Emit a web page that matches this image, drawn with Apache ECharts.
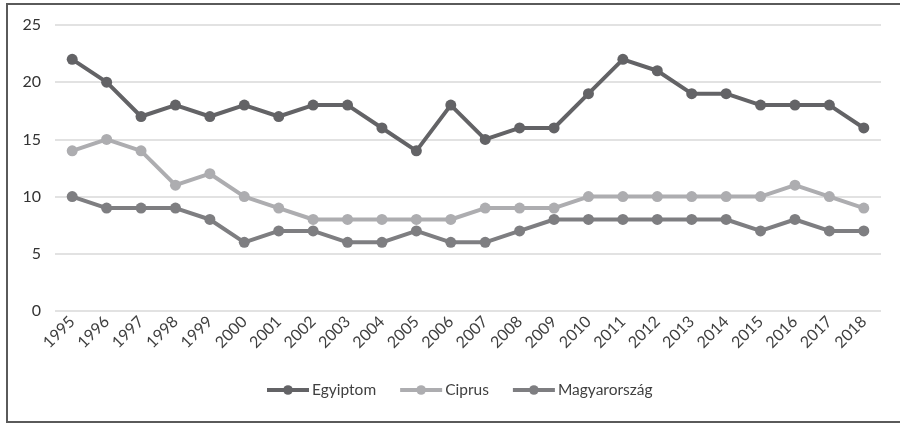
<!DOCTYPE html>
<html>
<head>
<meta charset="utf-8">
<script src="https://cdn.jsdelivr.net/npm/echarts@6/dist/echarts.min.js"></script>
<style>html,body{margin:0;padding:0;background:#fff}#c{width:900px;height:423px}</style>
</head>
<body>
<div id="c"></div>
<script>
const years = ['1995','1996','1997','1998','1999','2000','2001','2002','2003','2004','2005','2006','2007','2008','2009','2010','2011','2012','2013','2014','2015','2016','2017','2018'];
const egyiptom = [22,20,17,18,17,18,17,18,18,16,14,18,15,16,16,19,22,21,19,19,18,18,18,16];
const ciprus = [14,15,14,11,12,10,9,8,8,8,8,8,9,9,9,10,10,10,10,10,10,11,10,9];
const magyarorszag = [10,9,9,9,8,6,7,7,6,6,7,6,6,7,8,8,8,8,8,8,7,8,7,7];
const seriesNames = ['Egyiptom','Ciprus','Magyarország'];
const colors = ['#636366','#adadb0','#7e7e81'];

const chart = echarts.init(document.getElementById('c'), null, {renderer:'canvas'});
const font = 'Lato, "Open Sans", sans-serif';
function mk(name, data, color){
  return {name, type:'line', data, color, symbol:'circle', symbolSize:11,
    lineStyle:{width:4, color}, itemStyle:{color}, animation:false};
}
chart.setOption({
  animation:false,
  graphic:[{type:'rect', shape:{x:7,y:4,width:900,height:418}, style:{fill:null, stroke:'#5a5a5a', lineWidth:2}, silent:true}],
  grid:{left:55, right:19, top:25, bottom:112},
  legend:{bottom:20, left:260, itemWidth:42, itemHeight:12, itemGap:22,
    lineStyle:{width:4},
    textStyle:{fontFamily:font, fontSize:15.5, color:'#404040', padding:[0,0,0,-2]},
    data:seriesNames},
  xAxis:{type:'category', data:years, boundaryGap:true,
    axisLine:{show:false}, axisTick:{show:false},
    axisLabel:{rotate:45, interval:0, fontFamily:font, fontSize:16, color:'#404040', margin:8}},
  yAxis:{type:'value', min:0, max:25, interval:5,
    axisLine:{show:false}, axisTick:{show:false},
    splitLine:{lineStyle:{color:'#d9d9d9', width:1.5}},
    axisLabel:{fontFamily:font, fontSize:16, color:'#333333', margin:14}},
  series:[mk(seriesNames[0], egyiptom, colors[0]), mk(seriesNames[1], ciprus, colors[1]), mk(seriesNames[2], magyarorszag, colors[2])]
});
</script>
</body>
</html>
